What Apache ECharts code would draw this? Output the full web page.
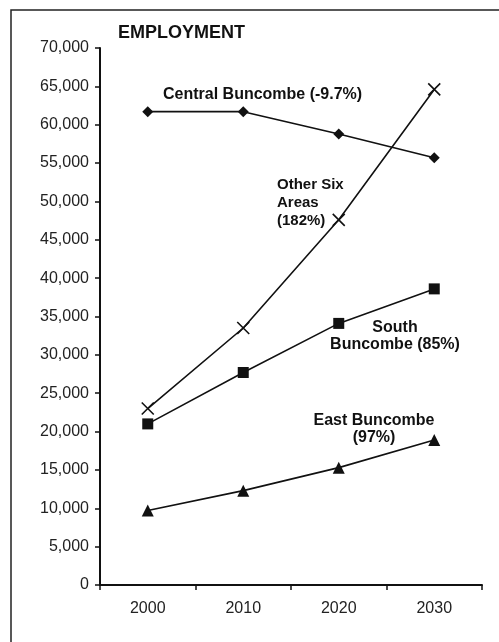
<!DOCTYPE html>
<html>
<head>
<meta charset="utf-8">
<script src="https://cdn.jsdelivr.net/npm/echarts@6/dist/echarts.min.js"></script>
<style>
  html, body { margin: 0; padding: 0; background: #fff; }
  #chart { width: 499px; height: 642px; }
</style>
</head>
<body>
<div id="chart"></div>
<script>
// Data
const years = ['2000', '2010', '2020', '2030'];
const central = [61700, 61700, 58800, 55700];
const otherSix = [23000, 33500, 47600, 64600];
const south = [21000, 27700, 34100, 38600];
const east = [9700, 12300, 15300, 18900];

const FONT = '"Liberation Sans", Arial, sans-serif';
const crossPath = 'path://M0,0L10,10M10,0L0,10';

const chart = echarts.init(document.getElementById('chart'));

const lineSeries = (name, data, symbol, size) => ({
  name,
  type: 'line',
  data,
  symbol,
  symbolSize: size,
  showAllSymbol: true,
  lineStyle: { color: '#111', width: 1.6 },
  itemStyle: symbol === crossPath
    ? { color: 'none', borderColor: '#111', borderWidth: 1.6 }
    : { color: '#111' },
  emphasis: { disabled: true },
  animation: false
});

// annotation text helper (centre-anchored)
const note = (text, x, y, size, align, lh) => ({
  type: 'text', x, y,
  style: {
    text, font: 'bold ' + size + 'px ' + FONT, fill: '#111',
    lineHeight: lh || 17, align: align || 'center', verticalAlign: 'middle'
  }
});

const option = {
  animation: false,
  grid: { left: 100, right: 17, top: 48, bottom: 57 },
  xAxis: {
    type: 'category',
    data: years,
    boundaryGap: true,
    axisLine: { lineStyle: { color: '#111', width: 2 } },
    axisTick: { show: true, length: 5, lineStyle: { color: '#111', width: 1.5 } },
    axisLabel: { color: '#222', fontFamily: FONT, fontSize: 16, margin: 16 }
  },
  yAxis: {
    type: 'value',
    min: 0,
    max: 70000,
    interval: 5000,
    splitLine: { show: false },
    axisLine: { show: true, lineStyle: { color: '#111', width: 2 } },
    axisTick: { show: true, length: 5, lineStyle: { color: '#111', width: 1.5 } },
    axisLabel: {
      color: '#222', fontFamily: FONT, fontSize: 16, margin: 11,
      formatter: v => v.toLocaleString('en-US')
    }
  },
  graphic: [
    { type: 'rect', shape: { x: 11, y: 10, width: 520, height: 660 },
      style: { fill: 'none', stroke: '#222', lineWidth: 1.5 } },
    { type: 'text', left: 118, top: 24,
      style: { text: 'EMPLOYMENT', font: 'bold 18px ' + FONT, fill: '#111' } },
    note('Central Buncombe (-9.7%)', 163, 95, 16, 'left'),
    note('Other Six\nAreas\n(182%)', 277, 203, 15, 'left', 18),
    note('South\nBuncombe (85%)', 395, 336, 16),
    note('East Buncombe\n(97%)', 374, 429, 16)
  ],
  series: [
    lineSeries('Central Buncombe', central, 'diamond', 11),
    lineSeries('Other Six Areas', otherSix, crossPath, 12),
    lineSeries('South Buncombe', south, 'rect', 11),
    lineSeries('East Buncombe', east, 'triangle', 12)
  ]
};

chart.setOption(option);
</script>
</body>
</html>
